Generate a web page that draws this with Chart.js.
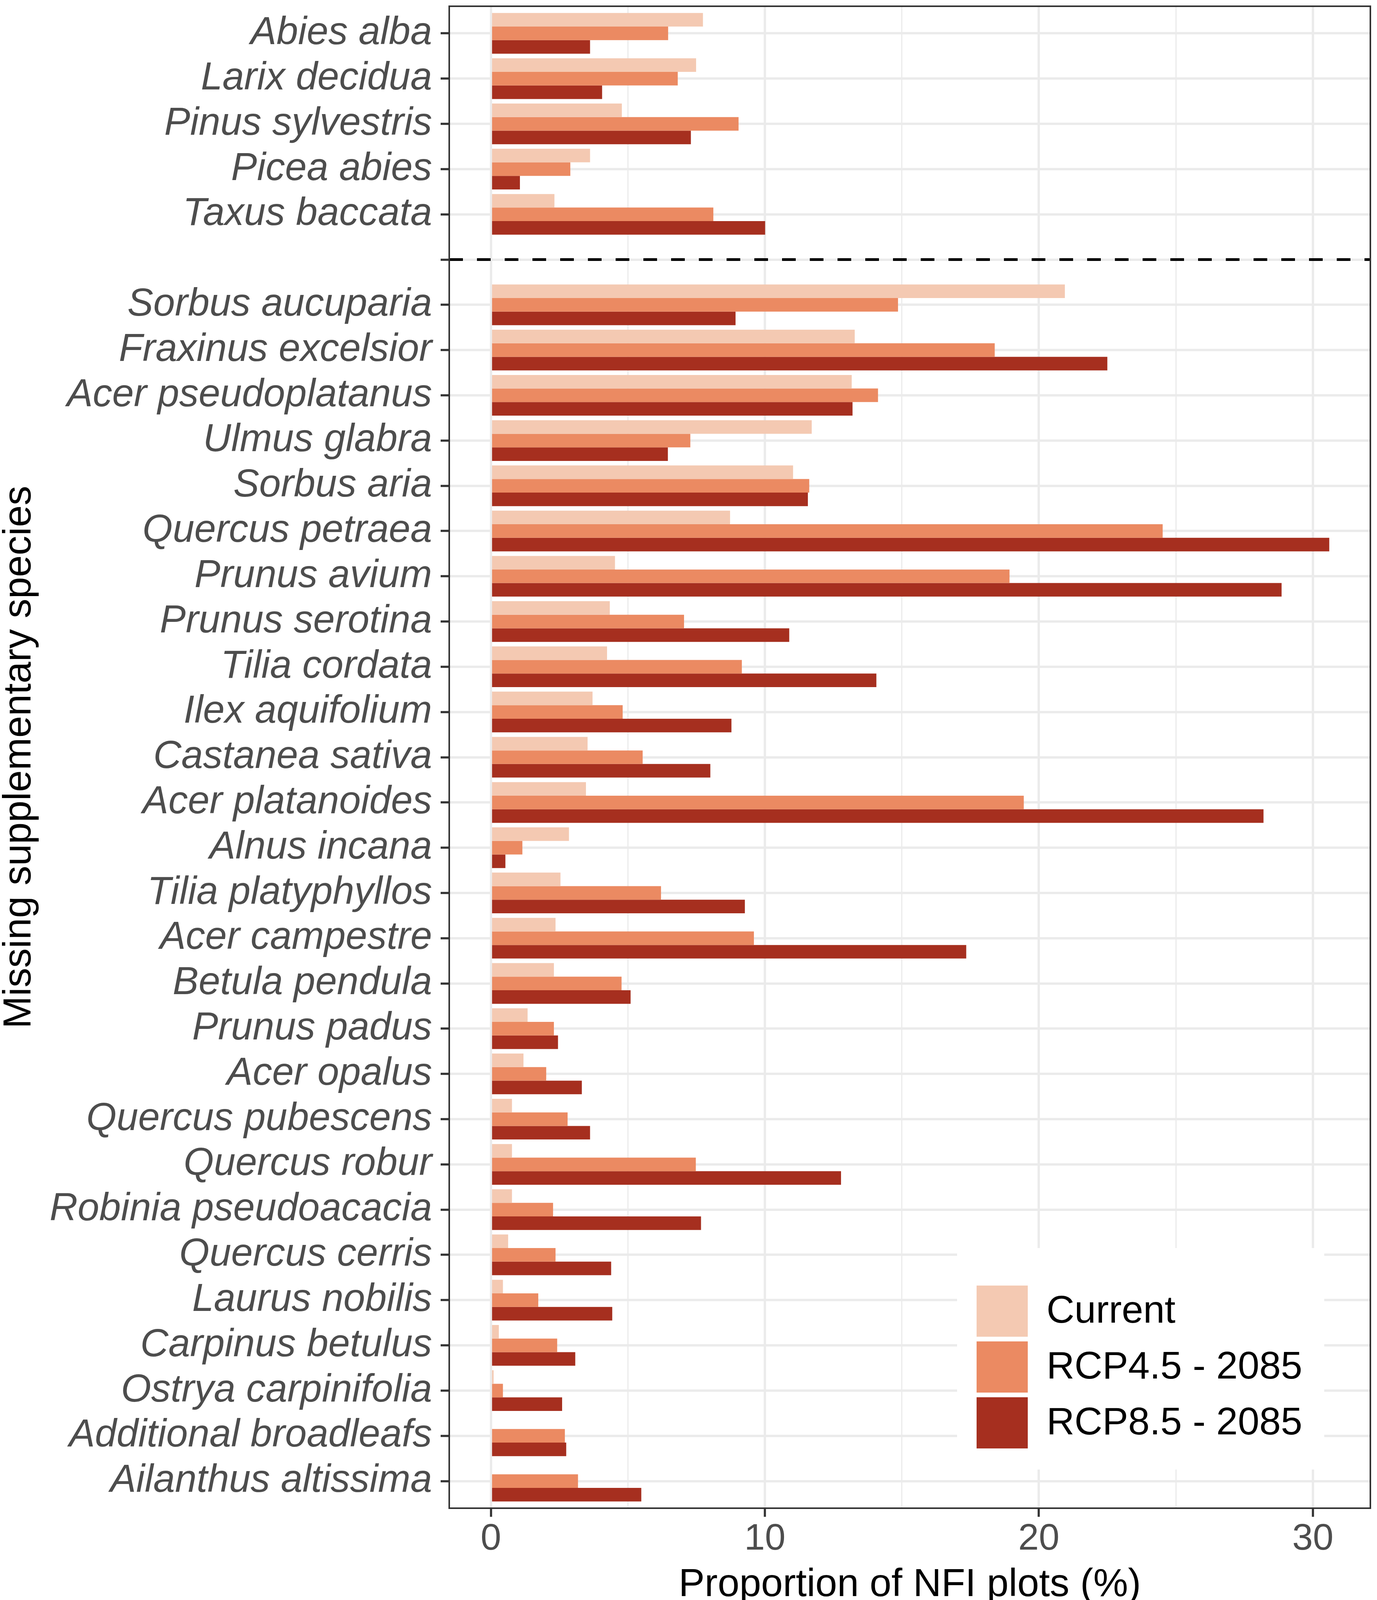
<!DOCTYPE html>
<html>
<head>
<meta charset="utf-8">
<script src="https://cdn.jsdelivr.net/npm/chart.js@4.4.1/dist/chart.umd.min.js"></script>
<style>
  html, body { margin: 0; padding: 0; background: #fff; }
  canvas { display: block; }
</style>
</head>
<body>
<canvas id="speciesChart" width="3525" height="4122"></canvas>
<script>
// species from top to bottom; the empty slot holds the dashed separator
const species = [
    'Abies alba', 'Larix decidua', 'Pinus sylvestris', 'Picea abies', 'Taxus baccata',
    '',
    'Sorbus aucuparia', 'Fraxinus excelsior', 'Acer pseudoplatanus', 'Ulmus glabra',
    'Sorbus aria', 'Quercus petraea', 'Prunus avium', 'Prunus serotina', 'Tilia cordata',
    'Ilex aquifolium', 'Castanea sativa', 'Acer platanoides', 'Alnus incana',
    'Tilia platyphyllos', 'Acer campestre', 'Betula pendula', 'Prunus padus',
    'Acer opalus', 'Quercus pubescens', 'Quercus robur', 'Robinia pseudoacacia',
    'Quercus cerris', 'Laurus nobilis', 'Carpinus betulus', 'Ostrya carpinifolia',
    'Additional broadleafs', 'Ailanthus altissima'
];

const current = [7.74, 7.49, 4.78, 3.62, 2.32, null,
    20.95, 13.28, 13.17, 11.71, 11.03, 8.73, 4.53, 4.34, 4.24, 3.71, 3.53, 3.47, 2.85,
    2.54, 2.36, 2.30, 1.34, 1.19, 0.77, 0.77, 0.77, 0.63, 0.44, 0.29, 0.10, 0, 0];

const rcp45 = [6.47, 6.82, 9.04, 2.90, 8.12, null,
    14.86, 18.39, 14.13, 7.28, 11.62, 24.52, 18.93, 7.05, 9.16, 4.81, 5.54, 19.45, 1.15,
    6.21, 9.60, 4.77, 2.30, 2.02, 2.80, 7.48, 2.27, 2.36, 1.73, 2.42, 0.44, 2.70, 3.18];

const rcp85 = [3.62, 4.06, 7.30, 1.06, 10.01, null,
    8.93, 22.50, 13.20, 6.46, 11.57, 30.60, 28.86, 10.89, 14.07, 8.78, 8.01, 28.20, 0.53,
    9.27, 17.35, 5.10, 2.45, 3.32, 3.62, 12.78, 7.67, 4.39, 4.43, 3.08, 2.60, 2.75, 5.49];

const seriesNames = ['Current', 'RCP4.5 - 2085', 'RCP8.5 - 2085'];
const seriesColors = ['#F4C9B2', '#EB8A62', '#A62F1F'];

const xTicks = [0, 5, 10, 15, 20, 25, 30];
const separatorIndex = 5;

const FONT = "'Liberation Sans', Arial, sans-serif";

// dashed separator, panel border and the legend inside the panel
const panelExtras = {
    id: 'panelExtras',
    afterDraw(chart) {
        const { ctx, chartArea: a, scales } = chart;
        ctx.save();

        const ySep = scales.y.getPixelForValue(separatorIndex);
        ctx.strokeStyle = '#000000';
        ctx.lineWidth = 7;
        ctx.setLineDash([35, 36]);
        ctx.beginPath();
        ctx.moveTo(a.left, ySep);
        ctx.lineTo(a.right, ySep);
        ctx.stroke();
        ctx.setLineDash([]);

        ctx.strokeStyle = '#333333';
        ctx.lineWidth = 4;
        ctx.strokeRect(a.left, a.top, a.right - a.left, a.bottom - a.top);

        const boxLeft = a.right - 1058;
        const boxTop = a.bottom - 666;
        ctx.fillStyle = '#ffffff';
        ctx.fillRect(boxLeft, boxTop, 940, 567);

        ctx.font = '99px ' + FONT;
        ctx.textBaseline = 'middle';
        ctx.textAlign = 'left';
        chart.data.datasets.forEach((ds, i) => {
            const top = boxTop + 96 + i * 143;
            ctx.fillStyle = ds.backgroundColor;
            ctx.fillRect(boxLeft + 50, top, 131, 131);
            ctx.fillStyle = '#000000';
            ctx.fillText(ds.label, boxLeft + 229, top + 68);
        });
        ctx.restore();
    }
};

const ctx = document.getElementById('speciesChart').getContext('2d');

const speciesChart = new Chart(ctx, {
    type: 'bar',
    data: {
        labels: species,
        datasets: [
            { label: seriesNames[0], data: current, backgroundColor: seriesColors[0] },
            { label: seriesNames[1], data: rcp45, backgroundColor: seriesColors[1] },
            { label: seriesNames[2], data: rcp85, backgroundColor: seriesColors[2] }
        ]
    },
    options: {
        indexAxis: 'y',
        responsive: false,
        devicePixelRatio: 1,
        animation: false,
        categoryPercentage: 0.9,
        barPercentage: 1.0,
        borderWidth: 0,
        layout: { padding: { left: 0, right: 17, top: 16, bottom: 14 } },
        plugins: {
            legend: { display: false },
            tooltip: { enabled: false }
        },
        scales: {
            x: {
                type: 'linear',
                min: -1.52,
                max: 32.1,
                afterBuildTicks: axis => {
                    axis.ticks = xTicks.map(v => ({ value: v }));
                },
                afterFit: axis => {
                    axis.height = 247;
                    axis.paddingLeft = 0;
                    axis.paddingRight = 0;
                },
                border: { display: false },
                grid: {
                    color: '#EBEBEB',
                    lineWidth: c => (c.tick && c.tick.value % 10 === 0 ? 6 : 3),
                    tickColor: c => (c.tick && c.tick.value % 10 === 0 ? '#333333' : 'rgba(0,0,0,0)'),
                    tickLength: 22,
                    tickWidth: 5.5
                },
                ticks: {
                    autoSkip: false,
                    maxRotation: 0,
                    padding: 10,
                    color: '#4D4D4D',
                    font: { family: FONT, size: 95, lineHeight: 1.0 },
                    callback: v => (v % 10 === 0 ? v : '')
                },
                title: {
                    display: true,
                    text: 'Proportion of NFI plots (%)',
                    color: '#000000',
                    padding: 0,
                    font: { family: FONT, size: 100, lineHeight: 1.0 }
                }
            },
            y: {
                type: 'category',
                offset: true,
                afterBuildTicks: axis => {
                    // ggplot-like 0.6 slot expansion at both ends
                    axis._startValue = -0.6;
                    axis._valueRange = axis.getLabels().length - 1 + 1.2;
                },
                afterFit: axis => {
                    axis.width = 1150;
                    axis.paddingTop = 0;
                    axis.paddingBottom = 0;
                },
                border: { display: false },
                grid: {
                    offset: false,
                    color: '#EBEBEB',
                    lineWidth: 6,
                    tickColor: '#333333',
                    tickLength: 22,
                    tickWidth: 5.5
                },
                ticks: {
                    autoSkip: false,
                    padding: 22,
                    color: '#4D4D4D',
                    font: { family: FONT, size: 99.5, style: 'italic', lineHeight: 1.0 }
                },
                title: {
                    display: true,
                    text: 'Missing supplementary species',
                    color: '#000000',
                    padding: 0,
                    font: { family: FONT, size: 100, lineHeight: 1.0 }
                }
            }
        }
    },
    plugins: [panelExtras]
});
</script>
</body>
</html>
